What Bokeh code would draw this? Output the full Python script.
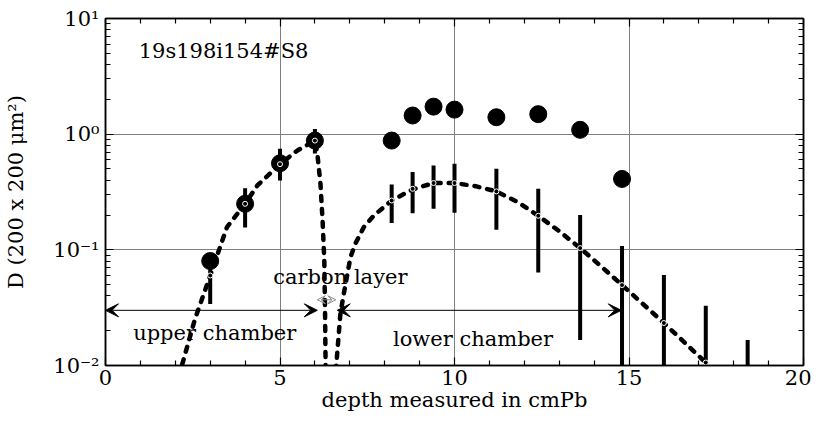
from bokeh.plotting import figure
from bokeh.models import FixedTicker, LinearAxis, LogAxis, Arrow, VeeHead, Label
from bokeh.embed import file_html
from bokeh.resources import INLINE

# ---------------- data ----------------
# large filled dots
dot_x = [3.0, 4.0, 5.0, 6.0, 8.2, 8.8, 9.4, 10.0, 11.2, 12.4, 13.6, 14.8]
dot_y = [0.08, 0.25, 0.56, 0.88, 0.88, 1.45, 1.73, 1.63, 1.40, 1.49, 1.09, 0.41]

# small points on the fitted curves
pt_x = [3.0, 4.0, 5.0, 6.0, 8.2, 8.8, 9.4, 10.0, 11.2, 12.4, 13.6, 14.8, 16.0, 17.2]
pt_y = [0.06, 0.25, 0.55, 0.88, 0.267, 0.337, 0.378, 0.378, 0.32, 0.197, 0.1035, 0.0496, 0.0233, 0.0106]

# error bars
err_x = [3.0, 4.0, 5.0, 6.0, 8.2, 8.8, 9.4, 10.0, 11.2, 12.4, 13.6, 14.8, 16.0, 17.2, 18.4]
err_hi = [0.09, 0.34, 0.748, 1.11, 0.367, 0.47, 0.536, 0.555, 0.502, 0.337, 0.2, 0.108, 0.0605, 0.0329, 0.0166]
err_lo = [0.034, 0.156, 0.398, 0.68, 0.171, 0.207, 0.226, 0.209, 0.149, 0.0638, 0.0166, 0.001, 0.001, 0.001, 0.001]

# fitted curve, upper chamber
up_x = [2.1, 2.56, 3.0, 3.48, 4.0, 4.35, 5.0, 5.49, 6.0, 6.07, 6.16, 6.22, 6.27, 6.29, 6.31]
up_y = [0.008, 0.025, 0.06, 0.157, 0.25, 0.36, 0.55, 0.72, 0.88, 0.68, 0.37, 0.18, 0.08, 0.03, 0.008]

# fitted curve, lower chamber
lo_x = [6.6, 6.73, 6.83, 7.02, 7.16, 7.4, 7.69, 8.2, 8.8, 9.4, 10.0, 10.6, 11.2, 11.8,
        12.4, 13.0, 13.6, 14.2, 14.8, 15.4, 16.0, 16.6, 17.2, 17.3]
lo_y = [0.009, 0.028, 0.042, 0.0865, 0.113, 0.157, 0.198, 0.267, 0.333, 0.378, 0.378, 0.355,
        0.32, 0.26, 0.197, 0.145, 0.1035, 0.072, 0.0496, 0.034, 0.0233, 0.0157, 0.0106, 0.0099]

x_ticks = [0, 5, 10, 15, 20]
x_minor = [i for i in range(0, 21) if i % 5 != 0]
y_ticks = [0.01, 0.1, 1, 10]
y_minor = [m * d for d in (0.01, 0.1, 1) for m in range(2, 10)]
y_labels = {0.01: "10⁻²", 0.1: "10⁻¹", 1: "10⁰", 10: "10¹"}

FONT = "DejaVu Serif"
FS = "21px"

p = figure(width=811, height=416, x_range=(0, 20), y_range=(0.01, 10), y_axis_type="log",
           output_backend="svg", toolbar_location=None,
           min_border_left=105, min_border_right=8, min_border_top=18, min_border_bottom=51)
p.background_fill_color = "white"
p.border_fill_color = "white"
p.outline_line_color = "black"
p.outline_line_width = 1.5

# grid
p.xgrid.ticker = FixedTicker(ticks=[5, 10, 15])
p.ygrid.ticker = FixedTicker(ticks=[0.1, 1])
for g in (p.xgrid, p.ygrid):
    g.grid_line_color = "#7f7f7f"
    g.grid_line_width = 1


def style_axis(ax, ticks, minor, labels=True):
    ax.ticker = FixedTicker(ticks=ticks, minor_ticks=minor)
    ax.major_tick_in = 8
    ax.major_tick_out = 0
    ax.minor_tick_in = 5
    ax.minor_tick_out = 0
    ax.axis_line_color = "black"
    ax.axis_line_width = 1.5
    ax.major_tick_line_color = "black"
    ax.minor_tick_line_color = "black"
    ax.major_tick_line_width = 1.2
    ax.minor_tick_line_width = 1.2
    if labels:
        ax.major_label_text_font = FONT
        ax.major_label_text_font_size = FS
        ax.major_label_text_color = "black"
        ax.major_label_text_line_height = 1.0
        ax.axis_label_text_font = FONT
        ax.axis_label_text_font_size = FS
        ax.axis_label_text_font_style = "normal"
        ax.axis_label_text_color = "black"
        ax.axis_label_text_line_height = 1.0
    else:
        ax.major_label_text_font_size = "0px"
        ax.major_label_text_color = None
        ax.major_label_standoff = 0


style_axis(p.xaxis[0], x_ticks, x_minor)
p.xaxis[0].axis_label = "depth measured in cmPb"
p.xaxis[0].major_label_standoff = 4
p.xaxis[0].axis_label_standoff = 0

style_axis(p.yaxis[0], y_ticks, y_minor)
p.yaxis[0].axis_label = "D (200 x 200 μm²)"
p.yaxis[0].major_label_overrides = y_labels
p.yaxis[0].major_label_standoff = 6
p.yaxis[0].axis_label_standoff = 22

top = LinearAxis()
style_axis(top, x_ticks, x_minor, labels=False)
p.add_layout(top, "above")
right = LogAxis()
style_axis(right, y_ticks, y_minor, labels=False)
p.add_layout(right, "right")

# fitted curves
for cx, cy in ((up_x, up_y), (lo_x, lo_y)):
    p.line(cx, cy, line_color="black", line_width=4.5, line_dash="5 8", line_cap="round")

# error bars
p.segment(x0=err_x, y0=err_lo, x1=err_x, y1=err_hi, line_color="black", line_width=4)

# big dots
p.scatter(dot_x, dot_y, size=17, fill_color="black", line_color="black")

# small points
p.scatter(pt_x, pt_y, size=5, fill_color="black", line_color="white", line_width=1)

# arrows
ARROW_Y = 0.03
p.add_layout(Arrow(x_start=0, y_start=ARROW_Y, x_end=6.07, y_end=ARROW_Y,
                   start=VeeHead(size=13, fill_color="black", line_color="black"),
                   end=VeeHead(size=13, fill_color="black", line_color="black"),
                   line_color="black", line_width=1))
p.add_layout(Arrow(x_start=6.64, y_start=ARROW_Y, x_end=14.78, y_end=ARROW_Y,
                   start=VeeHead(size=13, fill_color="black", line_color="black"),
                   end=VeeHead(size=13, fill_color="black", line_color="black"),
                   line_color="black", line_width=1))
p.add_layout(Arrow(x_start=6.07, y_start=0.037, x_end=6.6, y_end=0.037,
                   start=VeeHead(size=8, fill_color="white", line_color="#888888", line_width=1),
                   end=VeeHead(size=8, fill_color="white", line_color="#888888", line_width=1),
                   line_color="#888888", line_width=1))

# texts
def add_text(x, y, t, align="center"):
    p.add_layout(Label(x=x, y=y, text=t, text_font=FONT, text_font_size=FS,
                       text_align=align, text_baseline="middle", text_color="black"))

add_text(0.95, 5.24, "19s198i154#S8", align="left")
add_text(6.73, 0.0577, "carbon layer")
add_text(3.13, 0.019, "upper chamber")
add_text(10.53, 0.0171, "lower chamber")

open("out.html", "w").write(file_html(p, INLINE))
